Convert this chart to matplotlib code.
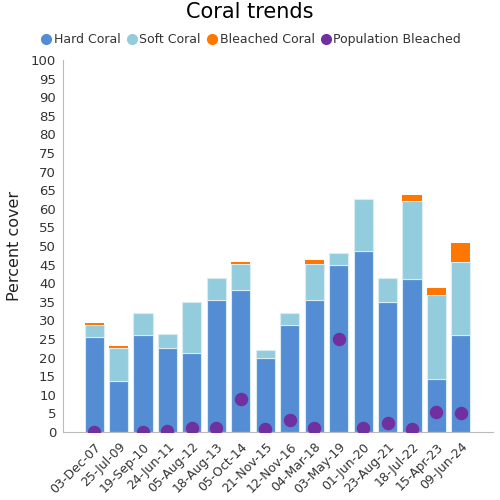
import numpy as np
import matplotlib
matplotlib.use('Agg')
import matplotlib.pyplot as plt
from matplotlib.lines import Line2D

dates = ['03-Dec-07', '25-Jul-09', '19-Sep-10', '24-Jun-11', '05-Aug-12', '18-Aug-13',
         '05-Oct-14', '21-Nov-15', '12-Nov-16', '04-Mar-18', '03-May-19', '01-Jun-20',
         '23-Aug-21', '18-Jul-22', '15-Apr-23', '09-Jun-24']
hard = [25.6, 13.7, 26.2, 22.5, 21.3, 35.6, 38.1, 20.0, 28.8, 35.6, 45.0, 48.7, 35.0, 41.2, 14.3, 26.2]
soft = [3.2, 9.0, 5.7, 3.8, 13.7, 5.7, 7.0, 2.0, 3.1, 9.5, 3.2, 13.8, 6.3, 20.8, 22.6, 19.5]
bleached = [0.6, 0.4, 0, 0, 0, 0, 0.5, 0, 0, 1.1, 0, 0, 0, 1.8, 1.9, 5.0]
pop_bleached = [0, np.nan, 0, 0.3, 1.2, 1.1, 8.8, 0.7, 3.3, 1.1, 25.0, 1.1, 2.5, 0.9, 5.5, 5.0]

c_hard = '#548dd4'
c_soft = '#93cddd'
c_bleach = '#ff7700'
c_pop = '#7030a0'
txt = '#333333'

fig = plt.figure(figsize=(5, 5), dpi=100)
ax = fig.add_axes([0.126, 0.136, 0.86, 0.744])

x = np.arange(len(dates))
hard = np.array(hard)
soft = np.array(soft)
bleached = np.array(bleached)
w = 0.78
ax.bar(x, hard, w, color=c_hard, edgecolor='#d8ecf2', linewidth=0.8)
ax.bar(x, soft, w, bottom=hard, color=c_soft, edgecolor='#d8ecf2', linewidth=0.8)
ax.bar(x, bleached, w, bottom=hard + soft, color=c_bleach, edgecolor='none')
ax.scatter(x, pop_bleached, s=75, color=c_pop, zorder=5)

ax.set_xlim(-1.27, 16.31)
ax.set_ylim(0, 100)
ax.set_yticks(range(0, 101, 5))
ax.set_xticks(x)
ax.set_xticklabels(dates, rotation=45, ha='right', rotation_mode='anchor')
ax.tick_params(length=0, labelsize=9.5, colors=txt, pad=5)
ax.tick_params(axis='x', labelsize=9, pad=6)
for lbl in ax.get_xticklabels():
    lbl.set_x(lbl.get_position()[0])
for s in ['top', 'right']:
    ax.spines[s].set_visible(False)
for s in ['left', 'bottom']:
    ax.spines[s].set_color('#bbbbbb')
ax.set_ylabel('Percent cover', fontsize=11.5, color='#222222', labelpad=6)

fig.suptitle('Coral trends', fontsize=15, y=0.995)
handles = [Line2D([], [], marker='o', linestyle='none', markersize=7, color=c)
           for c in [c_hard, c_soft, c_bleach, c_pop]]
fig.legend(handles, ['Hard Coral', 'Soft Coral', 'Bleached Coral', 'Population Bleached'],
           loc='center', bbox_to_anchor=(0.5, 0.921), ncol=4, frameon=False,
           fontsize=9, handletextpad=0.0, columnspacing=0.3, handlelength=1.2,
           labelcolor=txt)

fig.savefig('out.png', dpi=100)
